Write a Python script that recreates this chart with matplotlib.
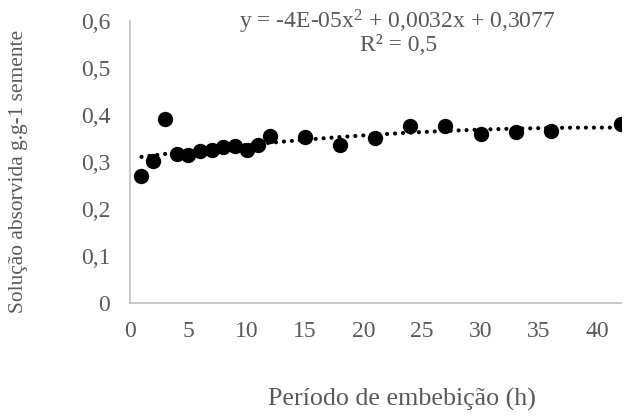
import numpy as np
import matplotlib
matplotlib.use("Agg")
import matplotlib.pyplot as plt
from matplotlib.ticker import FuncFormatter, MultipleLocator


# Imbibition period (h) and absorbed solution (g per g of seed)
horas = [1, 2, 3, 4, 5, 6, 7, 8, 9, 10, 11, 12, 15, 18, 21, 24, 27, 30, 33, 36, 42]
absorvida = [0.270, 0.302, 0.391, 0.317, 0.315, 0.323, 0.326, 0.332, 0.334, 0.326,
             0.336, 0.355, 0.353, 0.336, 0.351, 0.377, 0.377, 0.360, 0.364, 0.366, 0.381]

equacao = "y = -4E-05x$^{2}$ + 0,0032x + 0,3077"
r2_label = "R² = 0,5"

GRAY = "#595959"
AXIS = "#bfbfbf"

plt.rcParams["font.family"] = ["Liberation Serif", "DejaVu Serif"]
plt.rcParams["mathtext.fontset"] = "custom"
plt.rcParams["mathtext.rm"] = "Liberation Serif"
plt.rcParams["mathtext.default"] = "regular"

fig = plt.figure(figsize=(6.24, 4.17), dpi=100)
ax = fig.add_axes([0.208, 0.273, 0.787, 0.677])

ax.scatter(horas, absorvida, s=122, color="black", zorder=3, linewidths=0)

# second order trend line
coef = np.polyfit(horas, absorvida, 2)
xs = np.linspace(min(horas), max(horas), 300)
ax.plot(xs, np.polyval(coef, xs), color="black", linestyle=(0, (0.01, 1.9)),
        linewidth=3.0, dash_capstyle="round", zorder=2)

ax.set_xlim(0, 42)
ax.set_ylim(0, 0.6)
ax.xaxis.set_major_locator(MultipleLocator(5))
ax.yaxis.set_major_locator(MultipleLocator(0.1))
ax.yaxis.set_major_formatter(FuncFormatter(lambda v, p: "0" if abs(v) < 1e-9 else f"{v:.1f}".replace(".", ",")))

for s in ["top", "right"]:
    ax.spines[s].set_visible(False)
for s in ["left", "bottom"]:
    ax.spines[s].set_color(AXIS)
    ax.spines[s].set_linewidth(1.2)

ax.tick_params(length=0, labelsize=17, labelcolor=GRAY)
ax.tick_params(axis="y", pad=14)
ax.tick_params(axis="x", pad=12.5)

fig.text(0.637, 0.948, equacao, ha="center", va="center", fontsize=17, color=GRAY)
fig.text(0.638, 0.892, r2_label, ha="center", va="center", fontsize=17, color=GRAY)

fig.text(0.644, 0.041, "Período de embebição (h)", ha="center", va="center", fontsize=18.7, color=GRAY)
fig.text(0.030, 0.588, "Solução absorvida g.g-1 semente", ha="center", va="center",
         rotation=90, fontsize=15.4, color=GRAY)

fig.savefig("out.png", dpi=100)
